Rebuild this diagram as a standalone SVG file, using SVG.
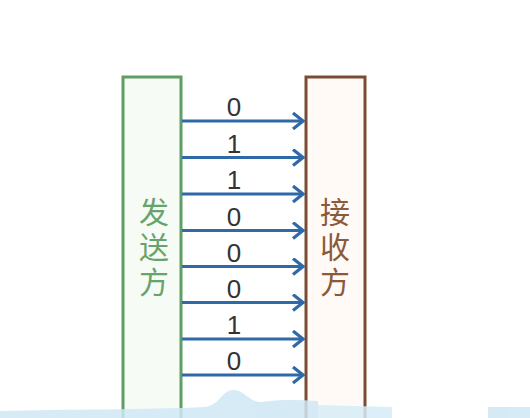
<svg xmlns="http://www.w3.org/2000/svg" width="530" height="418" viewBox="0 0 530 418">
<defs>
<style>
.bit{font-family:"Liberation Sans",Arial,sans-serif;font-size:26px;fill:#333;text-anchor:middle}
.cjk{font-family:"Noto Sans CJK SC","Noto Sans",sans-serif;font-size:30px;writing-mode:vertical-rl;letter-spacing:5px}
.wire{stroke:#2f69a8;stroke-width:3;fill:none}
</style>
<marker id="ah" markerWidth="14" markerHeight="18" refX="12" refY="9" orient="auto" markerUnits="userSpaceOnUse">
<path d="M2,1 L12,9 L2,17" fill="none" stroke="#2f69a8" stroke-width="3.2" stroke-linejoin="miter"/>
</marker>
</defs>
<rect width="530" height="418" fill="#ffffff"/>
<g id="sender">
<rect x="123" y="77" width="58" height="345" fill="#f7fbf5" stroke="#5f9f66" stroke-width="3"/>
<text class="cjk" x="154" y="197" fill="#66a46c">发送方</text>
</g>
<g id="receiver">
<rect x="306" y="77" width="59" height="345" fill="#fffaf6" stroke="#7b4c34" stroke-width="3"/>
<text class="cjk" x="335" y="197" fill="#8a5a3c">接收方</text>
</g>
<g id="connectors">
<line class="wire" x1="182" y1="121" x2="303" y2="121" marker-end="url(#ah)"/>
<line class="wire" x1="182" y1="157.5" x2="303" y2="157.5" marker-end="url(#ah)"/>
<line class="wire" x1="182" y1="194" x2="303" y2="194" marker-end="url(#ah)"/>
<line class="wire" x1="182" y1="230.5" x2="303" y2="230.5" marker-end="url(#ah)"/>
<line class="wire" x1="182" y1="266.5" x2="303" y2="266.5" marker-end="url(#ah)"/>
<line class="wire" x1="182" y1="302.5" x2="303" y2="302.5" marker-end="url(#ah)"/>
<line class="wire" x1="182" y1="339" x2="303" y2="339" marker-end="url(#ah)"/>
<line class="wire" x1="182" y1="375" x2="303" y2="375" marker-end="url(#ah)"/>
</g>
<g id="bits">
<text class="bit" x="234" y="116">0</text>
<text class="bit" x="234" y="152.5">1</text>
<text class="bit" x="234" y="189">1</text>
<text class="bit" x="234" y="225.5">0</text>
<text class="bit" x="234" y="261.5">0</text>
<text class="bit" x="234" y="297.5">0</text>
<text class="bit" x="234" y="334">1</text>
<text class="bit" x="234" y="370">0</text>
</g>
<g id="band" opacity="0.85">
<path d="M0,411 C60,409 150,410 205,407 C220,405 222,390 233,390 C245,390 248,402 262,402 C280,399 300,400 318,401 L318,418 L0,418 Z" fill="#cfe7f5"/>
<path d="M318,405 L392,407 L392,418 L318,418 Z" fill="#d6ecf7"/>
<path d="M488,407 L530,407 L530,418 L488,418 Z" fill="#cfe7f5"/>
</g>
</svg>
